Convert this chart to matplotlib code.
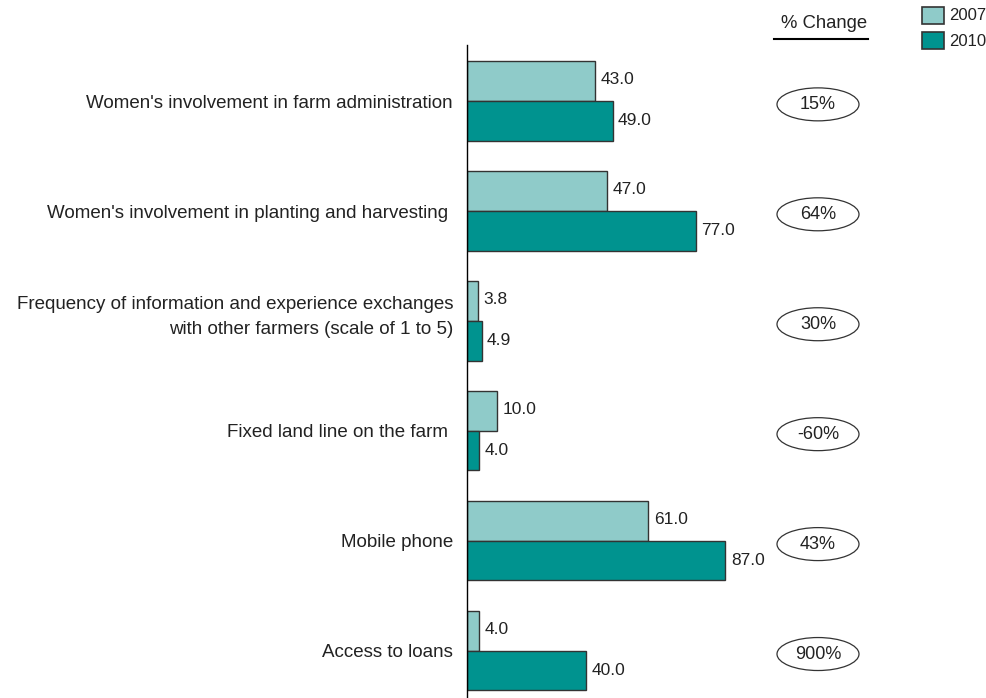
import matplotlib.pyplot as plt
from matplotlib.patches import Ellipse, Rectangle
import numpy as np

plt.rcParams['font.family'] = ['Liberation Sans', 'DejaVu Sans']

categories = ["Women's involvement in farm administration",
              "Women's involvement in planting and harvesting ",
              "Frequency of information and experience exchanges\nwith other farmers (scale of 1 to 5)",
              "Fixed land line on the farm ",
              "Mobile phone",
              "Access to loans"]
vals_2007 = [43.0, 47.0, 3.8, 10.0, 61.0, 4.0]
vals_2010 = [49.0, 77.0, 4.9, 4.0, 87.0, 40.0]
pct_change = ["15%", "64%", "30%", "-60%", "43%", "900%"]
years = ['2007', '2010']

c2007 = '#8fcbc9'
c2010 = '#00938f'
edge = '#333333'
txt = '#222222'

W, H = 986, 698
fig = plt.figure(figsize=(W / 100, H / 100), dpi=100)
ax = fig.add_axes([467 / W, 0, (W - 467) / W, 653 / H])

y = np.arange(len(categories))
bh = 0.36
ax.barh(y - bh / 2, vals_2007, height=bh, color=c2007, edgecolor=edge, linewidth=1)
ax.barh(y + bh / 2, vals_2010, height=bh, color=c2010, edgecolor=edge, linewidth=1)

for i in range(len(categories)):
    ax.annotate(f"{vals_2007[i]:.1f}", (vals_2007[i], y[i] - bh / 2), xytext=(4, 1),
                textcoords='offset points', va='center', ha='left', fontsize=12.5, color=txt)
    ax.annotate(f"{vals_2010[i]:.1f}", (vals_2010[i], y[i] + bh / 2), xytext=(4, 0),
                textcoords='offset points', va='center', ha='left', fontsize=12.5, color=txt)

ax.set_xlim(0, (W - 467) / 2.97)
ax.set_ylim(5.43, -0.51)
ax.set_yticks([])
ax.set_xticks([])
for s in ['top', 'right', 'bottom']:
    ax.spines[s].set_visible(False)
ax.spines['left'].set_color('black')
ax.spines['left'].set_linewidth(1)

tr = ax.get_yaxis_transform()

# category labels, right aligned against the axis
for i, cat in enumerate(categories):
    dy = 3 if '\n' in cat else -1.5
    ax.annotate(cat, (0, y[i]), xycoords=tr, xytext=(-10, dy), textcoords='offset points',
                ha='right', va='center', multialignment='right', linespacing=1.6,
                fontsize=13.5, color=txt, annotation_clip=False)

# % change column
xc = (818 - 467) / (W - 467)
ew = 82 / (W - 467)
eh = 33 / 110
for i, p in enumerate(pct_change):
    yc = y[i] + 0.03
    ax.add_patch(Ellipse((xc, yc), ew, eh, transform=tr, fc='white', ec='#333333',
                         lw=0.9, clip_on=False))
    ax.text(xc, yc, p, transform=tr, ha='center', va='center', fontsize=13, color=txt)

fig.text(824 / W, 1 - 24 / H, "% Change", ha='center', va='center', fontsize=13.3, color=txt)
fig.add_artist(plt.Line2D([774 / W, 868 / W], [1 - 39 / H, 1 - 39 / H], color='black', lw=1.5))

# legend boxes
for j, (lab, col) in enumerate(zip(years, [c2007, c2010])):
    y0 = 7 + j * 25
    fig.add_artist(Rectangle((922 / W, 1 - (y0 + 17) / H), 22 / W, 17 / H,
                             transform=fig.transFigure, fc=col, ec='#333333', lw=1.2))
    fig.text(949 / W, 1 - (y0 + 9) / H, lab, ha='left', va='center', fontsize=12, color=txt)

fig.savefig('out.png', dpi=100)
